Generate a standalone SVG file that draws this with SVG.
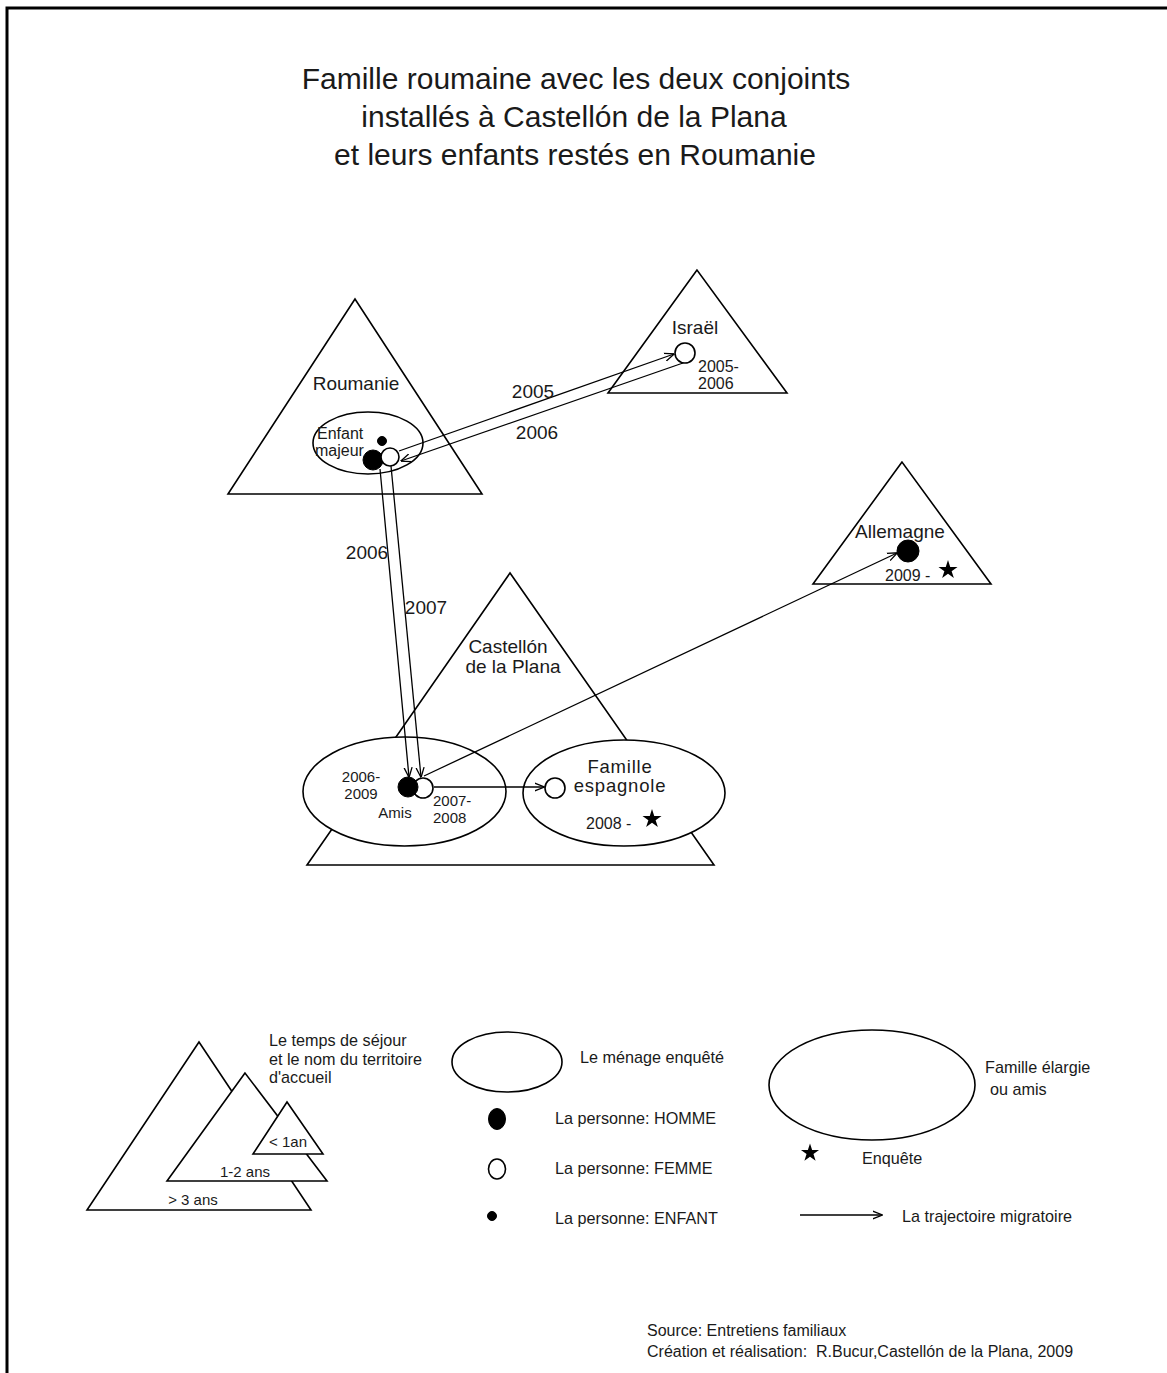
<svg xmlns="http://www.w3.org/2000/svg" width="1167" height="1373" viewBox="0 0 1167 1373">
<style>
  text { font-family: "Liberation Sans", Arial, sans-serif; fill: #1a1a1a; }
  .title { font-size: 30px; text-anchor: middle; }
  .lbl { font-size: 19px; }
  .sm { font-size: 16px; }
  .xs { font-size: 15px; }
  .leg { font-size: 16.2px; }
  .src { font-size: 16px; }
  .mid { text-anchor: middle; }
  .shape { fill: #fff; stroke: #000; stroke-width: 1.6; }
  .conn { fill: none; stroke: #000; stroke-width: 1.3; }
  .man { fill: #000; stroke: #000; stroke-width: 1; }
  .woman { fill: #fff; stroke: #000; stroke-width: 1.6; }
</style>
<defs>
  <marker id="arr" viewBox="0 0 10 10" refX="9.5" refY="5" markerWidth="10" markerHeight="10" orient="auto" markerUnits="userSpaceOnUse">
    <path d="M0,1 L10,5 L0,9" fill="none" stroke="#000" stroke-width="1.3"/>
  </marker>
  <polygon id="star" points="0,-10 2.245,-3.09 9.511,-3.09 3.633,1.18 5.878,8.09 0,3.82 -5.878,8.09 -3.633,1.18 -9.511,-3.09 -2.245,-3.09" fill="#000"/>
</defs>

<g id="frame">
  <path d="M7,1373 L7,8 L1167,8" fill="none" stroke="#000" stroke-width="3"/>
</g>

<g id="title">
  <text class="title" x="576" y="89">Famille roumaine avec les deux conjoints</text>
  <text class="title" x="574" y="127">installés à Castellón de la Plana</text>
  <text class="title" x="575" y="165">et leurs enfants restés en Roumanie</text>
</g>

<g id="roumanie">
  <polygon class="shape" points="355,299 228,494 482,494"/>
  <text class="lbl mid" x="356" y="390">Roumanie</text>
  <ellipse class="shape" cx="368" cy="443" rx="55" ry="31"/>
  <text class="sm" x="317" y="439">Enfant</text>
  <text class="sm" x="315" y="456">majeur</text>
  <circle class="man" cx="382" cy="441" r="4.5"/>
  <circle class="man" cx="373" cy="460" r="10"/>
  <circle class="woman" cx="390" cy="457" r="9"/>
</g>

<g id="israel">
  <polygon class="shape" points="697,270 608,393 787,393"/>
  <text class="lbl mid" x="695" y="334">Israël</text>
  <circle class="woman" cx="685" cy="353" r="10"/>
  <text class="sm" x="698" y="372">2005-</text>
  <text class="sm" x="698" y="389">2006</text>
</g>

<g id="castellon">
  <polygon class="shape" points="510,573 307,865 714,865"/>
  <text class="lbl mid" x="508" y="653">Castellón</text>
  <text class="lbl mid" x="513" y="673">de la Plana</text>
  <ellipse class="shape" cx="404.5" cy="791.5" rx="101.5" ry="54.5"/>
  <text class="xs mid" x="361" y="782">2006-</text>
  <text class="xs mid" x="361" y="799">2009</text>
  <text class="xs mid" x="395" y="818">Amis</text>
  <text class="xs" x="433" y="806">2007-</text>
  <text class="xs" x="433" y="823">2008</text>
  <circle class="woman" cx="423" cy="788" r="10"/>
  <circle class="man" cx="408" cy="787" r="10"/>
</g>

<g id="famille-espagnole">
  <ellipse class="shape" cx="624" cy="793" rx="101" ry="53"/>
  <text class="mid" x="620" y="773" style="font-size:18.5px;letter-spacing:0.8px">Famille</text>
  <text class="mid" x="620" y="792" style="font-size:18.5px;letter-spacing:0.8px">espagnole</text>
  <circle class="woman" cx="555" cy="788" r="10"/>
  <text class="sm" x="586" y="829">2008 -</text>
  <use href="#star" transform="translate(652,819)"/>
</g>

<g id="allemagne">
  <polygon class="shape" points="902,462 813,584 991,584"/>
  <text class="lbl mid" x="900" y="538">Allemagne</text>
  <circle class="man" cx="908" cy="551" r="11"/>
  <text class="sm" x="885" y="581">2009 -</text>
  <use href="#star" transform="translate(948,570)"/>
</g>

<g id="connectors">
  <line class="conn" x1="399" y1="451" x2="674" y2="354" marker-end="url(#arr)"/>
  <line class="conn" x1="683" y1="363" x2="401" y2="461" marker-end="url(#arr)"/>
  <line class="conn" x1="380" y1="469" x2="409" y2="777" marker-end="url(#arr)"/>
  <line class="conn" x1="391" y1="466" x2="421" y2="777" marker-end="url(#arr)"/>
  <line class="conn" x1="424" y1="776" x2="897" y2="553" marker-end="url(#arr)"/>
  <line class="conn" x1="434" y1="787" x2="544" y2="787" marker-end="url(#arr)"/>
</g>

<g id="connector-labels">
  <text class="lbl mid" x="533" y="398">2005</text>
  <text class="lbl mid" x="537" y="439">2006</text>
  <text class="lbl mid" x="367" y="559">2006</text>
  <text class="lbl mid" x="426" y="614">2007</text>
</g>

<g id="legend-triangles">
  <polygon class="shape" points="199,1042 87,1210 311,1210"/>
  <polygon class="shape" points="245,1073 167,1181 327,1181"/>
  <polygon class="shape" points="287,1102 253,1154 323,1154"/>
  <text class="xs mid" x="288" y="1147">&lt; 1an</text>
  <text class="xs mid" x="245" y="1177">1-2 ans</text>
  <text class="xs mid" x="193" y="1205">&gt; 3 ans</text>
  <text class="leg" x="269" y="1046">Le temps de séjour</text>
  <text class="leg" x="269" y="1065">et le nom du territoire</text>
  <text class="leg" x="269" y="1083">d'accueil</text>
</g>

<g id="legend-menage">
  <ellipse class="shape" cx="507" cy="1062" rx="55" ry="30"/>
  <text class="leg" x="580" y="1063">Le ménage enquêté</text>
</g>

<g id="legend-famille">
  <ellipse class="shape" cx="872" cy="1085" rx="103" ry="55"/>
  <text class="leg" x="985" y="1073">Famille élargie</text>
  <text class="leg" x="990" y="1095">ou amis</text>
</g>

<g id="legend-persons">
  <ellipse class="man" cx="497" cy="1119" rx="8.5" ry="10.5"/>
  <text class="leg" x="555" y="1124">La personne: HOMME</text>
  <ellipse class="woman" cx="497" cy="1169" rx="8.5" ry="10"/>
  <text class="leg" x="555" y="1174">La personne: FEMME</text>
  <circle class="man" cx="492" cy="1216" r="4.5"/>
  <text class="leg" x="555" y="1224">La personne: ENFANT</text>
</g>

<g id="legend-enquete">
  <use href="#star" transform="translate(810,1153) scale(0.95)"/>
  <text class="leg" x="862" y="1164">Enquête</text>
</g>

<g id="legend-trajectoire">
  <line class="conn" x1="800" y1="1215" x2="882" y2="1215" marker-end="url(#arr)"/>
  <text class="leg" x="902" y="1222">La trajectoire migratoire</text>
</g>

<g id="source">
  <text class="src" x="647" y="1336">Source: Entretiens familiaux</text>
  <text class="src" x="647" y="1357">Création et réalisation:&#160; R.Bucur,Castellón de la Plana, 2009</text>
</g>
</svg>
